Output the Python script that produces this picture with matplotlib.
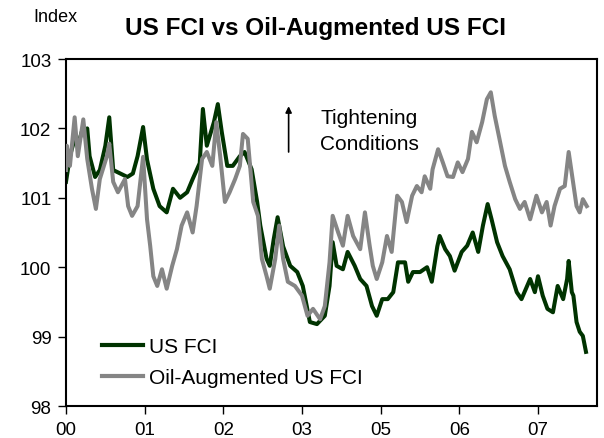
import matplotlib
matplotlib.use("Agg")
import matplotlib.pyplot as plt

plt.rcParams['font.family'] = ['Liberation Sans', 'DejaVu Sans']

# Time axis in years since start of 2000 (as drawn)
fci_t = [0.00, 0.05, 0.11, 0.15, 0.20, 0.27, 0.30, 0.37, 0.43, 0.50, 0.55, 0.60, 0.69, 0.78,
         0.85, 0.91, 0.98, 1.03, 1.11, 1.19, 1.28, 1.36, 1.45, 1.54, 1.61, 1.70, 1.74, 1.79,
         1.88, 1.93, 1.98, 2.05, 2.12, 2.21, 2.27, 2.36, 2.43, 2.47, 2.55, 2.59, 2.64, 2.69,
         2.76, 2.85, 2.94, 3.01, 3.10, 3.19, 3.29, 3.35, 3.39, 3.44, 3.52, 3.58, 3.67, 3.74,
         3.82, 3.89, 3.95, 4.02, 4.09, 4.16, 4.22, 4.31, 4.35, 4.41, 4.50, 4.59, 4.65, 4.72,
         4.75, 4.82, 4.88, 4.94, 5.03, 5.10, 5.17, 5.24, 5.30, 5.36, 5.41, 5.48, 5.55, 5.64,
         5.73, 5.79, 5.90, 5.96, 6.00, 6.06, 6.12, 6.19, 6.25, 6.32, 6.37, 6.39, 6.43, 6.45,
         6.49, 6.53, 6.57, 6.61]
fci_v = [101.23, 101.60, 101.85, 101.75, 101.95, 102.00, 101.60, 101.30, 101.40, 101.75, 102.16,
         101.40, 101.35, 101.30, 101.35, 101.60, 102.02, 101.55, 101.13, 100.88, 100.79, 101.13,
         101.00, 101.08, 101.27, 101.50, 102.28, 101.75, 102.09, 102.35, 101.95, 101.46, 101.46,
         101.60, 101.66, 101.41, 100.94, 100.60, 100.12, 100.02, 100.40, 100.72, 100.30, 100.02,
         99.93, 99.73, 99.21, 99.18, 99.30, 99.73, 100.36, 100.02, 99.97, 100.22, 100.02, 99.83,
         99.73, 99.44, 99.30, 99.54, 99.54, 99.64, 100.07, 100.07, 99.79, 99.93, 99.93, 100.00,
         99.79, 100.30, 100.45, 100.26, 100.16, 99.95, 100.22, 100.31, 100.50, 100.22, 100.60,
         100.91, 100.69, 100.36, 100.16, 99.97, 99.64, 99.54, 99.83, 99.64, 99.87, 99.59, 99.40,
         99.35, 99.73, 99.54, 99.83, 100.09, 99.64, 99.59, 99.21, 99.07, 99.01, 98.78]

oil_t = [0.00, 0.01, 0.05, 0.11, 0.15, 0.22, 0.27, 0.33, 0.38, 0.43, 0.52, 0.55, 0.60, 0.66,
         0.75, 0.79, 0.84, 0.91, 0.98, 1.03, 1.07, 1.11, 1.16, 1.22, 1.28, 1.35, 1.41, 1.47,
         1.54, 1.61, 1.66, 1.73, 1.79, 1.86, 1.91, 1.96, 2.02, 2.08, 2.15, 2.21, 2.25, 2.31,
         2.38, 2.44, 2.49, 2.55, 2.59, 2.66, 2.71, 2.76, 2.82, 2.91, 3.00, 3.07, 3.14, 3.23,
         3.29, 3.35, 3.39, 3.46, 3.52, 3.58, 3.65, 3.74, 3.80, 3.86, 3.90, 3.95, 4.02, 4.08,
         4.14, 4.21, 4.27, 4.33, 4.40, 4.46, 4.52, 4.56, 4.63, 4.66, 4.73, 4.79, 4.85, 4.92,
         4.98, 5.04, 5.11, 5.16, 5.22, 5.29, 5.35, 5.40, 5.45, 5.51, 5.58, 5.64, 5.71, 5.77,
         5.83, 5.90, 5.98, 6.05, 6.11, 6.16, 6.21, 6.28, 6.34, 6.39, 6.44, 6.49, 6.53, 6.57, 6.62]
oil_v = [101.40, 101.75, 101.46, 102.16, 101.60, 102.13, 101.56, 101.13, 100.84, 101.27, 101.60,
         101.78, 101.23, 101.08, 101.27, 100.88, 100.74, 100.88, 101.59, 100.69, 100.31, 99.87,
         99.73, 99.97, 99.69, 100.02, 100.26, 100.60, 100.79, 100.50, 100.88, 101.56, 101.66,
         101.46, 102.09, 101.60, 100.94, 101.08, 101.27, 101.46, 101.92, 101.85, 100.94, 100.74,
         100.12, 99.87, 99.69, 100.12, 100.60, 100.12, 99.79, 99.73, 99.59, 99.30, 99.40, 99.25,
         99.44, 100.07, 100.74, 100.50, 100.31, 100.74, 100.45, 100.26, 100.79, 100.31, 100.02,
         99.83, 100.07, 100.45, 100.22, 101.03, 100.94, 100.65, 101.03, 101.17, 101.08, 101.31,
         101.13, 101.41, 101.70, 101.51, 101.31, 101.30, 101.51, 101.37, 101.56, 101.95, 101.80,
         102.09, 102.42, 102.52, 102.18, 101.85, 101.46, 101.23, 100.98, 100.84, 100.94, 100.69,
         101.03, 100.79, 100.94, 100.60, 100.88, 101.13, 101.17, 101.66, 101.27, 100.88, 100.79,
         100.98, 100.88]

x_ticks = [0, 1, 2, 3, 4, 5, 6]
x_labels = ['00', '01', '02', '03', '05', '06', '07']
y_ticks = [98, 99, 100, 101, 102, 103]

fig = plt.figure(figsize=(6.04, 4.39), dpi=100)
ax = fig.add_axes([66/604, 1 - 407/439, (597 - 66)/604, (407 - 60)/439])

ax.plot(fci_t, fci_v, color='#003300', lw=2.9, label='US FCI', zorder=2,
        solid_joinstyle='round')
ax.plot(oil_t, oil_v, color='#858585', lw=2.9, label='Oil-Augmented US FCI', zorder=3,
        solid_joinstyle='round')

ax.set_xlim(0, 6.75)
ax.set_ylim(98, 103)
ax.set_xticks(x_ticks)
ax.set_xticklabels(x_labels)
ax.set_yticks(y_ticks)
ax.tick_params(axis='both', direction='out', length=5.5, width=1, labelsize=13.5,
               colors='black', pad=5)
for s in ax.spines.values():
    s.set_linewidth(1.5)
    s.set_color('black')

leg = ax.legend(loc='lower left', bbox_to_anchor=(0.052, 0.03), frameon=False,
                fontsize=15, handlelength=1.95, handletextpad=0.3, labelspacing=0.58,
                borderaxespad=0)
for line in leg.get_lines():
    line.set_linewidth(3)

ax.annotate('', xy=(2.83, 102.32), xytext=(2.83, 101.66),
            arrowprops=dict(arrowstyle='-|>', color='black', lw=1.2,
                            mutation_scale=9, shrinkA=0, shrinkB=0))
ax.text(3.23, 102.16, 'Tightening', fontsize=15, ha='left', va='center')
ax.text(3.23, 101.78, 'Conditions', fontsize=15, ha='left', va='center')

fig.text(315/604, 1 - 29/439, 'US FCI vs Oil-Augmented US FCI', fontsize=17.5,
         fontweight='bold', ha='center', va='center')
fig.text(33/604, 1 - 17/439, 'Index', fontsize=13, ha='left', va='center')

fig.savefig('out.png', dpi=100)
